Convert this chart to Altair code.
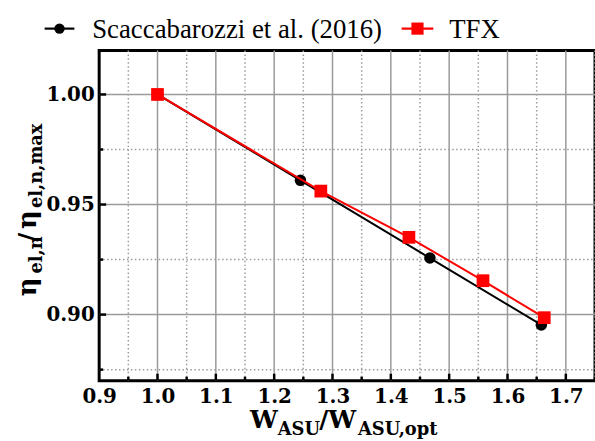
import altair as alt
import pandas as pd

# ---- data ----
scacc_x = [1.0, 1.245, 1.467, 1.658]
scacc_y = [1.0, 0.961, 0.9257, 0.8953]
tfx_x = [1.0, 1.280, 1.431, 1.558, 1.663]
tfx_y = [1.0, 0.9561, 0.9351, 0.9154, 0.8986]

x_labels = [0.9, 1.0, 1.1, 1.2, 1.3, 1.4, 1.5, 1.6, 1.7]
x_major = [1.0, 1.1, 1.2, 1.3, 1.4, 1.5, 1.6, 1.7]
x_minor = [0.95, 1.05, 1.15, 1.25, 1.35, 1.45, 1.55, 1.65, 1.75]
y_major = [0.90, 0.95, 1.00]
y_minor = [0.875, 0.925, 0.975]

W, H = 500, 333
TFONT = "DejaVu Serif"
LFONT = "Liberation Serif"

xs = alt.Scale(domain=[0.9, 1.75], nice=False, zero=False)
ys = alt.Scale(domain=[0.87, 1.02], nice=False, zero=False)

AX_X = alt.Axis(values=x_labels, format=".1f", grid=False, ticks=False, domain=False,
                labelFont=TFONT, labelFontSize=20, labelFontWeight="bold",
                labelColor="black", labelPadding=6, labelFlush=False, title=None)
AX_Y = alt.Axis(values=y_major, format=".2f", grid=False, ticks=False, domain=False,
                labelFont=TFONT, labelFontSize=20, labelFontWeight="bold",
                labelColor="black", labelPadding=5, labelFlush=False, title=None)

def X(f):
    return alt.X(f, scale=xs, axis=AX_X, title=None)

def Y(f):
    return alt.Y(f, scale=ys, axis=AX_Y, title=None)

df_s = pd.DataFrame({"x": scacc_x, "y": scacc_y})
df_t = pd.DataFrame({"x": tfx_x, "y": tfx_y})

GRID = "#9a9a9a"

def vrules(vals, dashed, y1=0, y2=H, color=GRID, width=1.5):
    kw = dict(color=color, strokeWidth=width)
    if dashed:
        kw["strokeDash"] = [1.5, 2.5]
    return alt.Chart(pd.DataFrame({"v": vals})).mark_rule(**kw).encode(
        x=X("v:Q"), y=alt.value(y1), y2=alt.value(y2))

def hrules(vals, dashed, x1=0, x2=W, color=GRID, width=1.5):
    kw = dict(color=color, strokeWidth=width)
    if dashed:
        kw["strokeDash"] = [1.5, 2.5]
    return alt.Chart(pd.DataFrame({"v": vals})).mark_rule(**kw).encode(
        y=Y("v:Q"), x=alt.value(x1), x2=alt.value(x2))

def txt(s, x, y, size, weight="bold", angle=0, font=TFONT):
    kw = dict(align="left", baseline="alphabetic", font=font, fontSize=size,
              fontWeight=weight, color="black")
    if angle:
        kw["angle"] = angle
    return alt.Chart(pd.DataFrame({"t": [s]})).mark_text(**kw).encode(
        x=alt.value(x), y=alt.value(y), text="t:N")

layers = [
    vrules(x_minor, True), hrules(y_minor, True),
    vrules(x_major, False), hrules(y_major, False),
    vrules(x_major, False, H - 7, H, "black", 2.5),
    vrules(x_minor, False, H - 4, H, "black", 2.5),
    hrules(y_major, False, 0, 7, "black", 2.5),
    hrules(y_minor, False, 0, 4, "black", 2.5),
]

layers += [
    alt.Chart(df_s).mark_line(color="black", strokeWidth=2).encode(x=X("x:Q"), y=Y("y:Q")),
    alt.Chart(df_s).mark_point(shape="circle", filled=True, color="black", size=135, opacity=1).encode(
        x=X("x:Q"), y=Y("y:Q")),
    alt.Chart(df_t).mark_line(color="#ff0000", strokeWidth=2).encode(x=X("x:Q"), y=Y("y:Q")),
    alt.Chart(df_t).mark_point(shape="square", filled=True, color="#ff0000", size=165, opacity=1).encode(
        x=X("x:Q"), y=Y("y:Q")),
]

# ---- legend (drawn above the plot) ----
leg = pd.DataFrame({"a": [0]})
layers += [
    alt.Chart(leg).mark_rule(color="black", strokeWidth=2.2).encode(
        x=alt.value(-55), x2=alt.value(-25), y=alt.value(-22)),
    alt.Chart(leg).mark_point(shape="circle", filled=True, color="black", size=110, opacity=1).encode(
        x=alt.value(-40), y=alt.value(-22)),
    txt("Scaccabarozzi et al. (2016)", -7, -13, 27, weight="normal", font=LFONT),
    alt.Chart(leg).mark_rule(color="#ff0000", strokeWidth=2.2).encode(
        x=alt.value(305), x2=alt.value(337), y=alt.value(-22)),
    alt.Chart(leg).mark_point(shape="square", filled=True, color="#ff0000", size=150, opacity=1).encode(
        x=alt.value(321), y=alt.value(-22)),
    txt("TFX", 353, -13, 27, weight="normal", font=LFONT),
]

# ---- axis titles with subscripts ----
layers += [
    txt("W", 152, 381, 25), txt("ASU", 180, 388, 18),
    txt("/", 222, 381, 25), txt("W", 231, 381, 25), txt("ASU,opt", 261, 388, 18),
    txt("η", -64, 248, 26, angle=270), txt("el,n", -58, 225, 18, angle=270),
    txt("/", -64, 193, 25, angle=270), txt("η", -64, 180, 26, angle=270),
    txt("el,n,max", -58, 159, 18, angle=270),
]

chart = alt.layer(*layers).properties(
    width=W, height=H,
    autosize=alt.AutoSizeParams(type="none"),
    padding={"left": 100, "top": 49, "right": 0, "bottom": 59},
    background="white",
).configure_view(stroke="black", strokeWidth=3)

chart.save("out.html", embed_options={"renderer": "svg", "actions": False})
